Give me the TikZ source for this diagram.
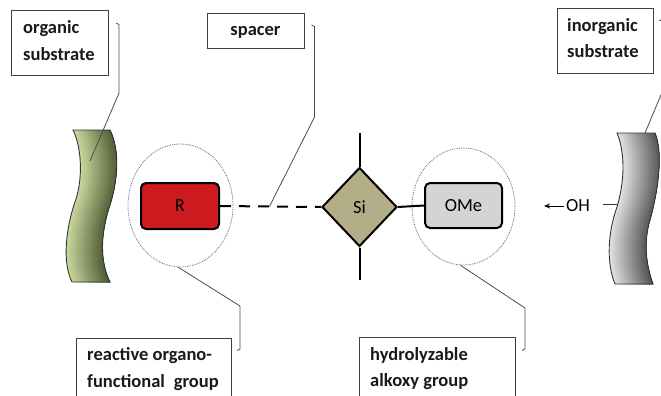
\documentclass[tikz,border=0pt]{standalone}
\usepackage{fontspec}
\setmainfont{Carlito}
\usetikzlibrary{shapes.geometric,arrows.meta}
\definecolor{redfill}{HTML}{CC1A1E}
\definecolor{sifill}{HTML}{B4AE88}
\definecolor{omefill}{HTML}{D4D4D4}
\definecolor{grnL}{HTML}{C8D69C}
\definecolor{grnD}{HTML}{4A5732}
\definecolor{gryL}{HTML}{E0E0E0}
\definecolor{gryD}{HTML}{505050}
\newcommand\grnEdgeL{(73,130) .. controls (82,148) and (83,180) .. (75,202) .. controls (66,228) and (62,262) .. (72,282)}
\newcommand\grnShape{(73,130) .. controls (82,148) and (83,180) .. (75,202)
  .. controls (66,228) and (62,262) .. (72,282) -- (110,282)
  .. controls (100,262) and (100,235) .. (110,205)
  .. controls (118,180) and (120,150) .. (110,130) -- cycle}
\newcommand\gryEdgeL{(617,133) .. controls (625,152) and (625,180) .. (617,207) .. controls (608,232) and (606,262) .. (615,284)}
\newcommand\gryShape{(617,133) .. controls (625,152) and (625,180) .. (617,207)
  .. controls (608,232) and (606,262) .. (615,284) -- (653,284)
  .. controls (645,262) and (644,240) .. (650,220)
  .. controls (657,195) and (664,155) .. (655,133) -- cycle}
\begin{document}
\begin{tikzpicture}[x=1pt,y=-1pt,
  lbox/.style={draw=black!75, line width=0.9pt, anchor=north west, inner sep=0pt},
  ltext/.style={font=\fontsize{18.5}{22}\selectfont\bfseries, text=black!90, inner sep=0pt, anchor=base west},
  callout/.style={draw=black!70, line width=0.8pt},
  bond/.style={line width=2pt, draw=black},
  grp/.style={draw=black, line width=2pt, rounded corners=5pt, font=\fontsize{18.5}{22}\selectfont, inner sep=0pt},
  ring/.style={ellipse, draw=black!60, densely dotted, line width=0.8pt, inner sep=0pt},
  subst/.style={draw=black!80, line width=0.9pt}]
\useasboundingbox (0,0) rectangle (661,396);
\clip (0,0) rectangle (661,396);

% substrates (gradient following the curved strip)
\begin{scope}
  \clip \grnShape;
  \foreach \i in {0,...,20} {
    \pgfmathtruncatemacro\c{100-\i*5}
    \fill[grnL!\c!grnD, xshift=\i*1.9pt] \grnEdgeL -- (160,282) -- (160,130) -- cycle;
  }
\end{scope}
\draw[subst] \grnShape;
\begin{scope}
  \clip \gryShape;
  \foreach \i in {0,...,20} {
    \pgfmathtruncatemacro\c{100-\i*5}
    \fill[gryL!\c!gryD, xshift=\i*1.9pt] \gryEdgeL -- (700,284) -- (700,133) -- cycle;
  }
\end{scope}
\draw[subst] \gryShape;

% rings
\node[ring, minimum width=105pt, minimum height=123pt] (Rell) at (180.5,205.5) {};
\node[ring, minimum width=103pt, minimum height=117pt] (Oell) at (463.5,206.5) {};

% groups
\node[grp, fill=redfill, minimum width=78pt, minimum height=46pt] (R) at (180,206) {R};
\node[diamond, draw=black, line width=2pt, fill=sifill, minimum width=75pt, minimum height=79pt, inner sep=0pt, font=\fontsize{18.5}{22}\selectfont] (Si) at (359.5,207) {Si};
\node[grp, fill=omefill, minimum width=77pt, minimum height=45pt] (OMe) at (463.5,205.5) {OMe};

% bonds
\draw[bond, dash pattern=on 11pt off 8pt] (R.east) -- (Si.west);
\draw[bond] (Si.north) -- ++(0,-34);
\draw[bond] (Si.south) -- ++(0,32);
\draw[bond] (Si.east) -- (OMe.west);
\path (R.east) -- (Si.west) coordinate[pos=0.49] (sp);

% OH
\node[anchor=west, inner sep=0pt, font=\fontsize{18.5}{22}\selectfont] (oh) at (566,206) {OH};
\draw[line width=1pt, -{Stealth[length=6pt,width=5pt]}] ([xshift=-2pt]oh.west) -- ++(-20,0) coordinate (ohtip);
\coordinate (ohtick) at (603,204);
\coordinate (grayedge) at (618,204);
\draw[line width=1pt, black!80] (ohtick) -- (grayedge);

% label boxes
\node[lbox, minimum width=97pt, minimum height=65pt] (orgbox) at (11,10) {};
\node[ltext] (org1) at (23,34) {organic};
\node[ltext] (org2) at (23,61) {substrate};

\node[lbox, minimum width=97pt, minimum height=35pt] (spbox) at (207,13) {};
\node[ltext, anchor=base] (sp1) at (255.5,36) {spacer};

\node[lbox, minimum width=96pt, minimum height=65pt] (inbox) at (557,8) {};
\node[ltext] (in1) at (567,32) {inorganic};
\node[ltext] (in2) at (567,58) {substrate};

\node[lbox, minimum width=155pt, minimum height=80pt] (rebox) at (76,338) {};
\node[ltext] (re1) at (87,360) {reactive organo-};
\node[ltext] (re2) at (87,387) {functional\hspace{0.25em} group};

\node[lbox, minimum width=156pt, minimum height=80pt] (hybox) at (359,337) {};
\node[ltext] (hy1) at (370,360) {hydrolyzable};
\node[ltext] (hy2) at (370,386) {alkoxy group};

% callouts
\coordinate (orgend) at (90,161);
\coordinate (inend) at (645,133);
\draw[callout] (116,23) -- (119,24.5) -- (119,93) -- (orgend);
\draw[callout] (311.5,25) -- (314.5,26.5) -- (314.5,117) -- (sp);
\draw[callout] (659,20) -- (663,21.5) -- (663,90) -- (inend);
\draw[callout] (Rell.-92) -- (240,306) -- (240,349) -- (237,350.5);
\draw[callout] (Oell.-93) -- (525,308) -- (525,349) -- (522,350.5);
\end{tikzpicture}
\end{document}
